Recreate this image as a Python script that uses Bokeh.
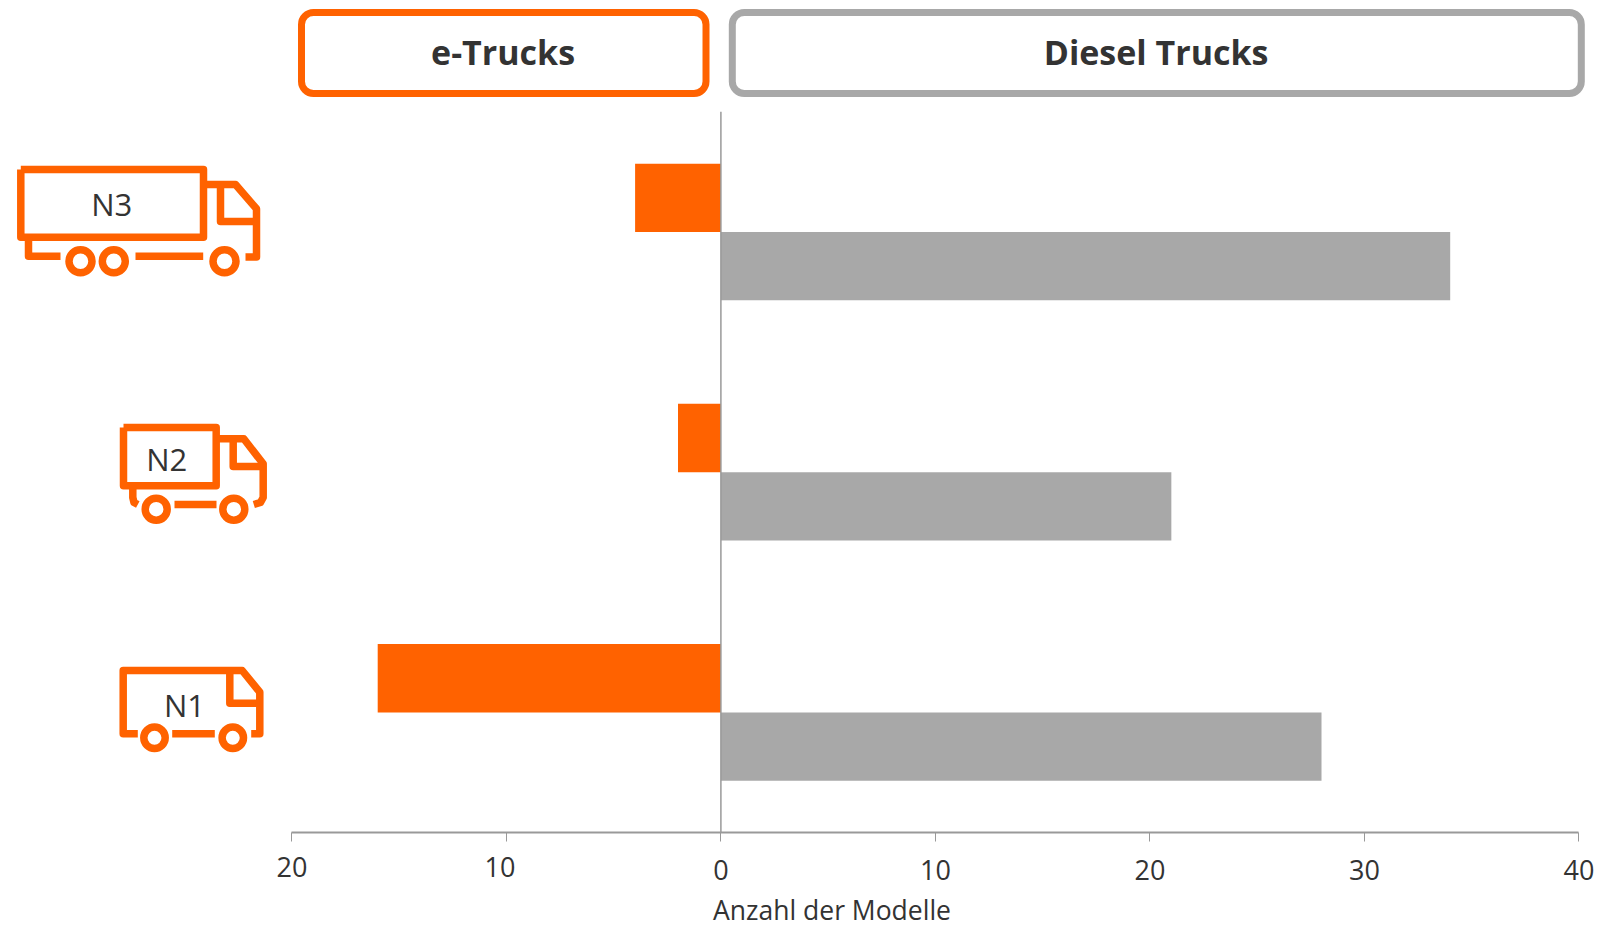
from bokeh.plotting import figure
from bokeh.models import Range1d, LinearAxis, FixedTicker, BoxAnnotation, Label
from bokeh.embed import file_html
from bokeh.resources import INLINE
from bokeh.core.properties import value

# ---- data
categories = ["N1", "N2", "N3"]
e_trucks = [16, 2, 4]
diesel_trucks = [28, 21, 34]
left_ticks = [-20, -10]
right_ticks = [0, 10, 20, 30, 40]
tick_text = {-20: "20", -10: "10", 0: "0", 10: "10", 20: "20", 30: "30", 40: "40"}
axis_title = "Anzahl der Modelle"
box_titles = ["e-Trucks", "Diesel Trucks"]

ORANGE = "#FF6200"
GREY = "#A8A8A8"
AXIS = "#999999"
TEXT = "#333333"
FONT = "Open Sans"

W, H, M = 1600, 928, 0
# page-pixel geometry of the plotting area
X0, UNIT = 720.4, 21.45
Y_BOTTOM, BAND = 832.0, 240.23

p = figure(width=W, height=H, output_backend="svg", toolbar_location=None,
           x_range=Range1d(-(X0 - M) / UNIT, (M + W - X0) / UNIT),
           y_range=Range1d(-(M + H - Y_BOTTOM) / BAND, (Y_BOTTOM - M) / BAND),
           x_axis_type=None, y_axis_type=None,
           min_border=0, min_border_left=0, min_border_right=0, min_border_top=0, min_border_bottom=0,
           background_fill_color="white", border_fill_color="white", outline_line_color=None)
p.grid.visible = False
p.extra_x_ranges["px"] = Range1d(M, M + W)
p.extra_y_ranges["px"] = Range1d(M + H, M)

# ---- bars
idx = [i + 0.5 for i in range(len(categories))]
BAR = 0.2843
p.hbar(y=[v + BAR / 2 for v in idx], left=[-v for v in e_trucks], right=0, height=BAR,
       fill_color=ORANGE, line_color=None)
p.hbar(y=[v - BAR / 2 for v in idx], left=0, right=diesel_trucks, height=BAR,
       fill_color=GREY, line_color=None)
p.segment(x0=[0], x1=[0], y0=[0], y1=[len(categories)], line_color=AXIS, line_width=1.5)

# ---- axes: the labels left of zero sit a little higher and are placed separately
p.add_layout(LinearAxis(ticker=FixedTicker(ticks=left_ticks + right_ticks), fixed_location=0,
                        bounds=(left_ticks[0], right_ticks[-1]),
                        major_label_overrides={k: ("" if k in left_ticks else tick_text[k]) for k in tick_text},
                        major_tick_in=0, major_tick_out=9, minor_tick_out=0, minor_tick_in=0,
                        major_tick_line_color=AXIS, major_tick_line_width=1,
                        axis_line_color=AXIS, axis_line_width=2,
                        major_label_text_font=FONT, major_label_text_font_size="27px",
                        major_label_text_color=TEXT, major_label_standoff=18), "below")
p.text(x=left_ticks, y=[-(866.5 - Y_BOTTOM) / BAND] * len(left_ticks), x_offset=[0, -6.5],
       text=[tick_text[t] for t in left_ticks], text_font=value(FONT), text_font_size="27px",
       text_color=TEXT, text_align="center", text_baseline="middle")

p.text(x=[5.18], y=[-(909.5 - Y_BOTTOM) / BAND], text=[axis_title], text_font=value(FONT),
       text_font_size="26.5px", text_color=TEXT, text_align="center", text_baseline="middle")

# ---- header boxes
for (l, r), col, title in zip([(301.0, 705.5), (731.8, 1580.8)], [ORANGE, GREY], box_titles):
    p.add_layout(BoxAnnotation(left=l - M, right=r - M, top=12 - M, bottom=93 - M,
                               left_units="canvas", right_units="canvas", top_units="canvas", bottom_units="canvas",
                               fill_color="white", fill_alpha=1, line_color=col, line_width=7, line_alpha=1,
                               border_radius=12, level="overlay"))
    p.add_layout(Label(x=(l + r) / 2 - 0.7, y=51, x_range_name="px", y_range_name="px", text=title,
                       text_font=FONT, text_font_style="bold", text_font_size="34px", text_color=TEXT,
                       text_align="center", text_baseline="middle", level="overlay"))

# ---- truck icons (page-pixel drawing)
icon_lines = [
    # N3
    [(20.3, 169), (203, 169), (203, 236.7), (20.3, 236.7), (20.3, 169)],
    [(203, 184), (235, 184), (256, 208.3), (256, 256.5), (245, 256.5)],
    [(220, 184), (220, 221), (256, 221)],
    [(28, 236.7), (28, 255.7), (60, 255.7)],
    [(135, 255.7), (202.7, 255.7)],
    # N2
    [(123, 427), (215.7, 427), (215.7, 485.3), (123, 485.3), (123, 427)],
    [(215.7, 438.3), (243.3, 438.3), (262.7, 463.3), (262.7, 497), (260, 502), (253.3, 504)],
    [(232.7, 438.3), (232.7, 466), (262.7, 466)],
    [(132.3, 485.3), (132.3, 497), (133.5, 502), (137.3, 504)],
    [(174, 504), (216, 504)],
    # N1
    [(137.3, 733.3), (122.7, 733.3), (122.7, 670), (241.7, 670), (259.3, 691.7), (259.3, 733.3), (250.7, 733.3)],
    [(229.3, 670), (229.3, 702.7), (259.3, 702.7)],
    [(171.7, 733.3), (214.3, 733.3)],
]
p.multi_line(xs=[[q[0] for q in l] for l in icon_lines], ys=[[q[1] for q in l] for l in icon_lines],
             x_range_name="px", y_range_name="px", line_color=ORANGE, line_width=7.5,
             line_join="round", line_cap="butt")
wheels_x = [80, 113.3, 224, 155.7, 233.3, 154, 232.3]
wheels_y = [260.7, 260.7, 260.7, 508.7, 508.7, 737.3, 737.3]
wheels_r = [11.5, 11.5, 11.5, 11, 11, 10.7, 10.7]
p.circle(x=wheels_x, y=wheels_y, radius=wheels_r, x_range_name="px", y_range_name="px",
         fill_color="white", line_color=ORANGE, line_width=7.5)
p.text(x=[111.2, 166.2, 184], y=[203, 458.3, 704], text=categories[::-1], x_range_name="px", y_range_name="px",
       text_font=value(FONT), text_font_size="31px", text_color=TEXT, text_align="center", text_baseline="middle")

open("out.html", "w").write(file_html(p, INLINE))
